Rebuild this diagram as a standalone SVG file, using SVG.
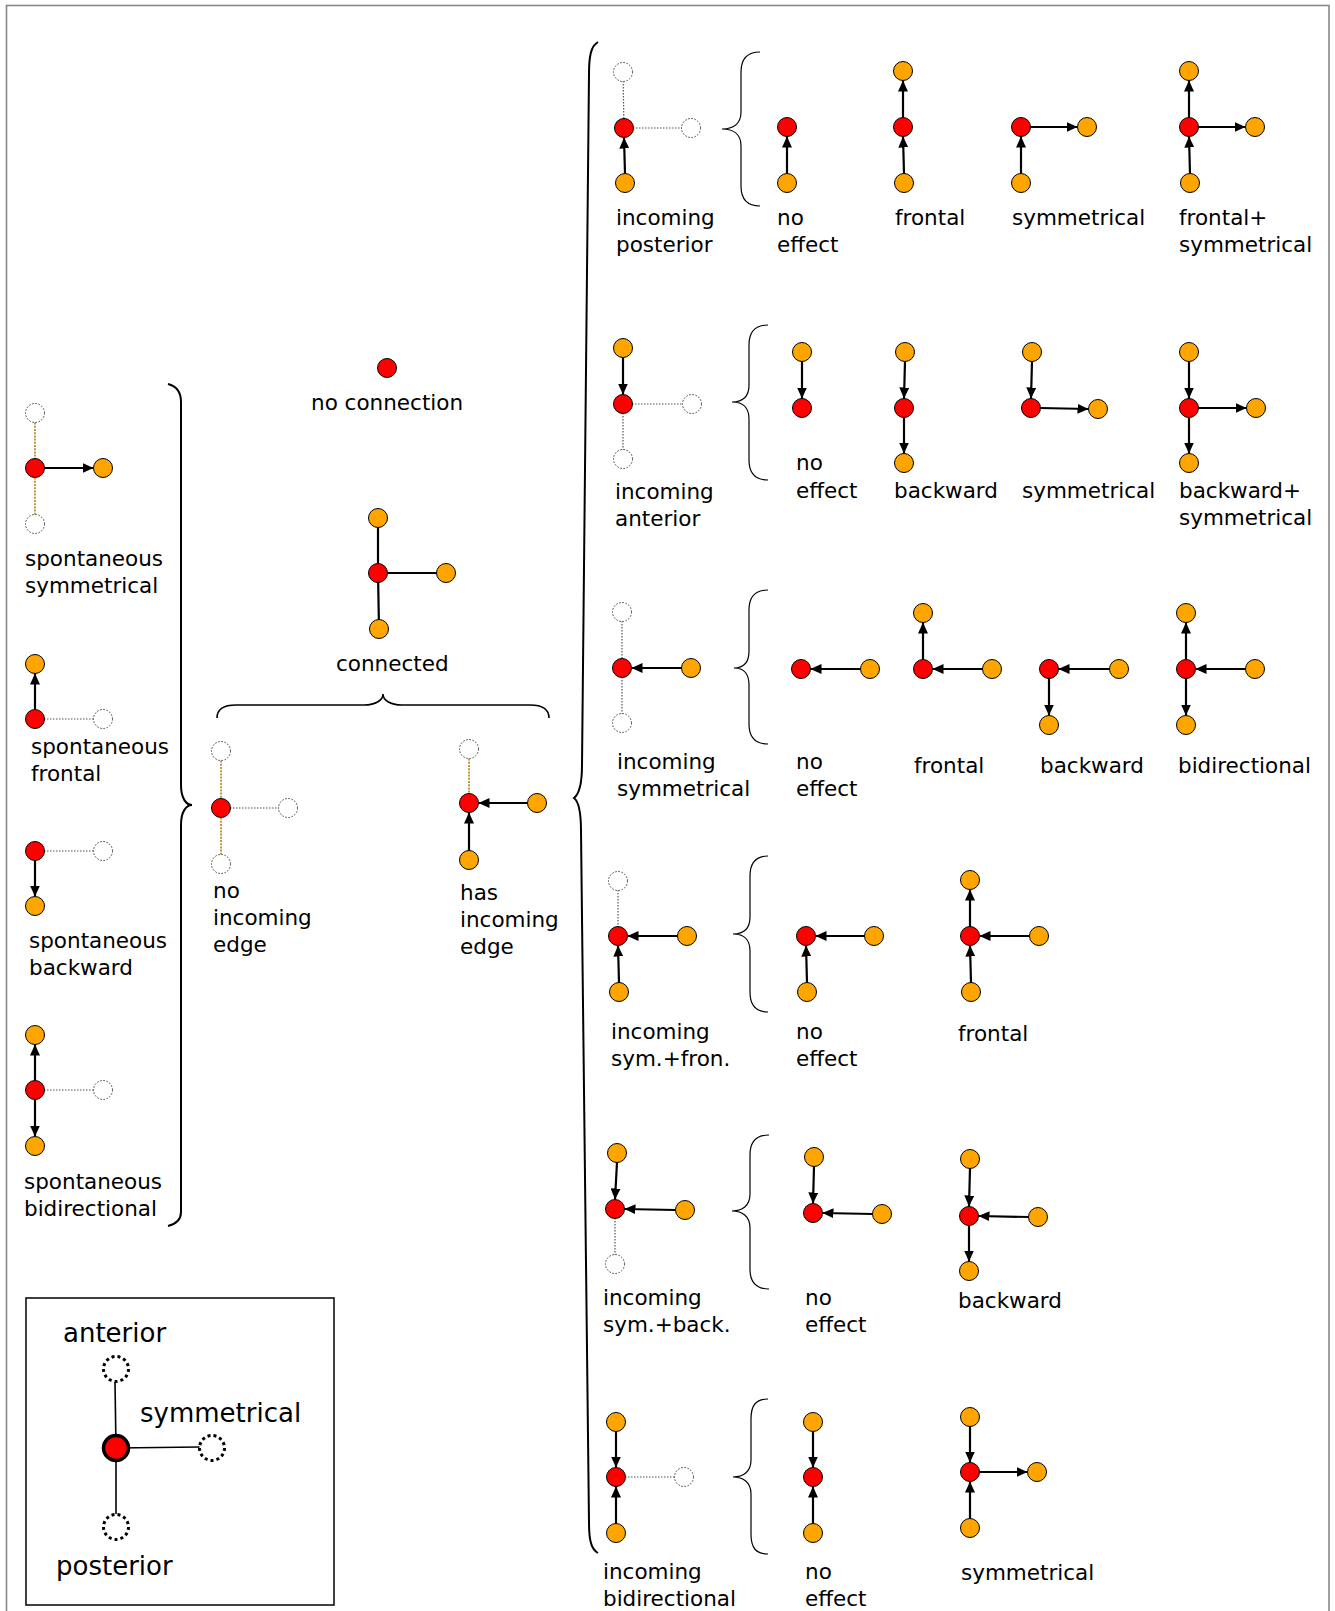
<svg xmlns="http://www.w3.org/2000/svg" width="1335" height="1611" viewBox="0 0 1335 1611">
<defs>
<style>
.r{fill:#ff0000;stroke:#000;stroke-width:1}
.o{fill:#ffa500;stroke:#000;stroke-width:1}
.d{fill:#fff;stroke:#444;stroke-width:1;stroke-dasharray:1.6 1.6}
.t{font-family:"DejaVu Sans","Liberation Sans",sans-serif;font-size:21.5px;fill:#000}
.tl{font-family:"DejaVu Sans","Liberation Sans",sans-serif;font-size:26px;fill:#000}
.a{stroke:#000;stroke-width:2.2;fill:none;marker-end:url(#ah)}
.p{stroke:#000;stroke-width:2.2;fill:none}
.dt{stroke:#555;stroke-width:1.2;stroke-dasharray:1.5 1.5;fill:none}
.dto{stroke:#b07800;stroke-width:1.5;stroke-dasharray:2 1.2;fill:none}
.br{stroke:#000;stroke-width:1.2;fill:none}
.bb{stroke:#000;stroke-width:2;fill:none}
.ld{fill:#fff;stroke:#000;stroke-width:3;stroke-dasharray:3 3}
</style>
<marker id="ah" markerUnits="userSpaceOnUse" markerWidth="11" markerHeight="10" refX="11" refY="5" orient="auto">
<path d="M0,0 L11,5 L0,10 z" fill="#000"/>
</marker>
</defs>
<rect x="6.5" y="5.5" width="1322.5" height="1620" fill="#fff" stroke="#888" stroke-width="1.6"/>

<g id="braces">
<path class="bb" d="M168,384 C176,386 181,391 181,402 L181,785 C181,798 186,805 192,805 C186,805 181,812 181,825 L181,1212 C181,1220 176,1224 168,1226"/>
<path class="br" style="stroke-width:1.6" d="M217,718 C217,709 224,705 236,705 L364,705 C376,705 383,700 383,694 C383,700 390,705 402,705 L530,705 C542,705 549,709 549,718"/>
<path class="bb" d="M598,42 C591,46 589,56 589,74 L582,765 C582,786 578,795 574,798 C578,801 581,810 581,831 L589,1522 C589,1540 591,1549 598,1553"/>
<path class="br" d="M760,52 C748,52 741,58 741,72 L741,112 C741,124 733,129 722,129 C733,129 741,134 741,146 L741,186 C741,200 748,206 760,206"/>
<path class="br" d="M768,325 C756,325 749,331 749,345 L749,385 C749,397 742,402 732,402 C742,402 749,407 749,419 L749,460 C749,474 756,480 768,480"/>
<path class="br" d="M768,590 C756,590 749,596 749,610 L749,651 C749,663 743,668 734,668 C743,668 749,673 749,685 L749,724 C749,738 756,744 768,744"/>
<path class="br" d="M768,856 C756,856 750,862 750,876 L750,917 C750,929 743,934 733,934 C743,934 750,939 750,951 L750,992 C750,1006 756,1012 768,1012"/>
<path class="br" d="M769,1135 C757,1135 750,1141 750,1155 L750,1194 C750,1206 742,1211 732,1211 C742,1211 750,1216 750,1228 L750,1269 C750,1283 757,1289 769,1289"/>
<path class="br" d="M768,1399 C756,1399 751,1405 751,1419 L751,1460 C751,1472 743,1477 733,1477 C743,1477 751,1482 751,1494 L751,1534 C751,1548 756,1554 768,1554"/>
</g>

<g id="connectors">
<line class="dto" x1="35" y1="413" x2="35" y2="468"/>
<line class="dto" x1="35" y1="468" x2="35" y2="524"/>
<line class="dt" x1="35" y1="719" x2="103" y2="719"/>
<line class="dt" x1="35" y1="851" x2="103" y2="851"/>
<line class="dt" x1="35" y1="1090" x2="103" y2="1090"/>
<line class="dto" x1="221" y1="751" x2="221" y2="808"/>
<line class="dto" x1="221" y1="808" x2="221" y2="864"/>
<line class="dt" x1="221" y1="808" x2="288" y2="808"/>
<line class="dto" x1="469" y1="749" x2="469" y2="803"/>
<line class="dt" x1="623" y1="72" x2="624" y2="128"/>
<line class="dt" x1="624" y1="128" x2="691" y2="128"/>
<line class="dt" x1="623" y1="404" x2="692" y2="404"/>
<line class="dt" x1="623" y1="404" x2="623" y2="459"/>
<line class="dt" x1="622" y1="612" x2="622" y2="668"/>
<line class="dt" x1="622" y1="668" x2="622" y2="723"/>
<line class="dt" x1="618" y1="881" x2="618" y2="936"/>
<line class="dt" x1="615" y1="1209" x2="615" y2="1264"/>
<line class="dt" x1="616" y1="1477" x2="684" y2="1477"/>
<line class="p" x1="378" y1="518" x2="378" y2="573"/>
<line class="p" x1="378" y1="573" x2="446" y2="573"/>
<line class="p" x1="378" y1="573" x2="379" y2="629"/>
<line class="a" x1="44.5" y1="468" x2="93.5" y2="468"/>
<line class="a" x1="35" y1="709.5" x2="35" y2="673.5"/>
<line class="a" x1="35" y1="860.5" x2="35" y2="896.5"/>
<line class="a" x1="35" y1="1080.5" x2="35" y2="1044.5"/>
<line class="a" x1="35" y1="1099.5" x2="35" y2="1136.5"/>
<line class="a" x1="527.5" y1="803" x2="478.5" y2="803"/>
<line class="a" x1="469" y1="850.5" x2="469" y2="812.5"/>
<line class="a" x1="625" y1="173.5" x2="624" y2="137.5"/>
<line class="a" x1="787" y1="173.5" x2="787" y2="136.5"/>
<line class="a" x1="904" y1="173.5" x2="903" y2="136.5"/>
<line class="a" x1="903" y1="117.5" x2="903" y2="80.5"/>
<line class="a" x1="1021" y1="173.5" x2="1021" y2="136.5"/>
<line class="a" x1="1030.5" y1="127" x2="1077.5" y2="127"/>
<line class="a" x1="1190" y1="173.5" x2="1189" y2="136.5"/>
<line class="a" x1="1189" y1="117.5" x2="1189" y2="80.5"/>
<line class="a" x1="1198.5" y1="127" x2="1245.5" y2="127"/>
<line class="a" x1="623" y1="357.5" x2="623" y2="394.5"/>
<line class="a" x1="802" y1="361.5" x2="802" y2="398.5"/>
<line class="a" x1="905" y1="361.5" x2="904" y2="398.5"/>
<line class="a" x1="904" y1="417.5" x2="904" y2="453.5"/>
<line class="a" x1="1032" y1="361.5" x2="1031" y2="398.5"/>
<line class="a" x1="1040.5" y1="408" x2="1088.5" y2="409"/>
<line class="a" x1="1189" y1="361.5" x2="1189" y2="398.5"/>
<line class="a" x1="1198.5" y1="408" x2="1246.5" y2="408"/>
<line class="a" x1="1189" y1="417.5" x2="1189" y2="453.5"/>
<line class="a" x1="681.5" y1="668" x2="631.5" y2="668"/>
<line class="a" x1="860.5" y1="669" x2="810.5" y2="669"/>
<line class="a" x1="982.5" y1="669" x2="932.5" y2="669"/>
<line class="a" x1="923" y1="659.5" x2="923" y2="622.5"/>
<line class="a" x1="1109.5" y1="669" x2="1058.5" y2="669"/>
<line class="a" x1="1049" y1="678.5" x2="1049" y2="715.5"/>
<line class="a" x1="1245.5" y1="669" x2="1195.5" y2="669"/>
<line class="a" x1="1186" y1="659.5" x2="1186" y2="622.5"/>
<line class="a" x1="1186" y1="678.5" x2="1186" y2="715.5"/>
<line class="a" x1="677.5" y1="936" x2="627.5" y2="936"/>
<line class="a" x1="619" y1="982.5" x2="618" y2="945.5"/>
<line class="a" x1="864.5" y1="936" x2="815.5" y2="936"/>
<line class="a" x1="807" y1="982.5" x2="806" y2="945.5"/>
<line class="a" x1="1029.5" y1="936" x2="979.5" y2="936"/>
<line class="a" x1="971" y1="982.5" x2="970" y2="945.5"/>
<line class="a" x1="970" y1="926.5" x2="970" y2="889.5"/>
<line class="a" x1="617" y1="1162.5" x2="615" y2="1199.5"/>
<line class="a" x1="675.5" y1="1210" x2="624.5" y2="1209"/>
<line class="a" x1="814" y1="1166.5" x2="813" y2="1203.5"/>
<line class="a" x1="872.5" y1="1214" x2="822.5" y2="1213"/>
<line class="a" x1="970" y1="1168.5" x2="969" y2="1206.5"/>
<line class="a" x1="1028.5" y1="1217" x2="978.5" y2="1216"/>
<line class="a" x1="969" y1="1225.5" x2="969" y2="1261.5"/>
<line class="a" x1="616" y1="1431.5" x2="616" y2="1467.5"/>
<line class="a" x1="616" y1="1523.5" x2="616" y2="1486.5"/>
<line class="a" x1="813" y1="1431.5" x2="813" y2="1467.5"/>
<line class="a" x1="813" y1="1523.5" x2="813" y2="1486.5"/>
<line class="a" x1="970" y1="1426.5" x2="970" y2="1462.5"/>
<line class="a" x1="970" y1="1518.5" x2="970" y2="1481.5"/>
<line class="a" x1="979.5" y1="1472" x2="1027.5" y2="1472"/>
</g>

<g id="spontaneous-symmetrical">
<circle class="d" cx="35" cy="413" r="9.5"/><circle class="r" cx="35" cy="468" r="9.5"/><circle class="o" cx="103" cy="468" r="9.5"/><circle class="d" cx="35" cy="524" r="9.5"/>
<text class="t" x="25" y="565.5">spontaneous</text><text class="t" x="25" y="592.5">symmetrical</text>
</g>
<g id="spontaneous-frontal">
<circle class="o" cx="35" cy="664" r="9.5"/><circle class="r" cx="35" cy="719" r="9.5"/><circle class="d" cx="103" cy="719" r="9.5"/>
<text class="t" x="31" y="754">spontaneous</text><text class="t" x="31" y="781">frontal</text>
</g>
<g id="spontaneous-backward">
<circle class="r" cx="35" cy="851" r="9.5"/><circle class="d" cx="103" cy="851" r="9.5"/><circle class="o" cx="35" cy="906" r="9.5"/>
<text class="t" x="29" y="948">spontaneous</text><text class="t" x="29" y="975">backward</text>
</g>
<g id="spontaneous-bidirectional">
<circle class="o" cx="35" cy="1035" r="9.5"/><circle class="r" cx="35" cy="1090" r="9.5"/><circle class="d" cx="103" cy="1090" r="9.5"/><circle class="o" cx="35" cy="1146" r="9.5"/>
<text class="t" x="24" y="1189">spontaneous</text><text class="t" x="24" y="1216">bidirectional</text>
</g>
<g id="no-connection">
<circle class="r" cx="387" cy="368" r="9.5"/>
<text class="t" x="311" y="409.5">no connection</text>
</g>
<g id="connected">
<circle class="o" cx="378" cy="518" r="9.5"/><circle class="r" cx="378" cy="573" r="9.5"/><circle class="o" cx="446" cy="573" r="9.5"/><circle class="o" cx="379" cy="629" r="9.5"/>
<text class="t" x="336" y="671">connected</text>
</g>
<g id="no-incoming-edge">
<circle class="d" cx="221" cy="751" r="9.5"/><circle class="r" cx="221" cy="808" r="9.5"/><circle class="d" cx="288" cy="808" r="9.5"/><circle class="d" cx="221" cy="864" r="9.5"/>
<text class="t" x="213" y="898">no</text><text class="t" x="213" y="925">incoming</text><text class="t" x="213" y="952">edge</text>
</g>
<g id="has-incoming-edge">
<circle class="d" cx="469" cy="749" r="9.5"/><circle class="r" cx="469" cy="803" r="9.5"/><circle class="o" cx="537" cy="803" r="9.5"/><circle class="o" cx="469" cy="860" r="9.5"/>
<text class="t" x="460" y="900">has</text><text class="t" x="460" y="927">incoming</text><text class="t" x="460" y="954">edge</text>
</g>

<g id="incoming-posterior">
<circle class="d" cx="623" cy="72" r="9.5"/><circle class="r" cx="624" cy="128" r="9.5"/><circle class="d" cx="691" cy="128" r="9.5"/><circle class="o" cx="625" cy="183" r="9.5"/>
<text class="t" x="616" y="225">incoming</text><text class="t" x="616" y="252">posterior</text>
</g>
<g id="p-no-effect">
<circle class="r" cx="787" cy="127" r="9.5"/><circle class="o" cx="787" cy="183" r="9.5"/>
<text class="t" x="777" y="225">no</text><text class="t" x="777" y="252">effect</text>
</g>
<g id="p-frontal">
<circle class="o" cx="903" cy="71" r="9.5"/><circle class="r" cx="903" cy="127" r="9.5"/><circle class="o" cx="904" cy="183" r="9.5"/>
<text class="t" x="895" y="225">frontal</text>
</g>
<g id="p-symmetrical">
<circle class="r" cx="1021" cy="127" r="9.5"/><circle class="o" cx="1087" cy="127" r="9.5"/><circle class="o" cx="1021" cy="183" r="9.5"/>
<text class="t" x="1012" y="225">symmetrical</text>
</g>
<g id="p-frontal-symmetrical">
<circle class="o" cx="1189" cy="71" r="9.5"/><circle class="r" cx="1189" cy="127" r="9.5"/><circle class="o" cx="1255" cy="127" r="9.5"/><circle class="o" cx="1190" cy="183" r="9.5"/>
<text class="t" x="1179" y="225">frontal+</text><text class="t" x="1179" y="252">symmetrical</text>
</g>

<g id="incoming-anterior">
<circle class="o" cx="623" cy="348" r="9.5"/><circle class="r" cx="623" cy="404" r="9.5"/><circle class="d" cx="692" cy="404" r="9.5"/><circle class="d" cx="623" cy="459" r="9.5"/>
<text class="t" x="615" y="498.5">incoming</text><text class="t" x="615" y="526">anterior</text>
</g>
<g id="a-no-effect">
<circle class="o" cx="802" cy="352" r="9.5"/><circle class="r" cx="802" cy="408" r="9.5"/>
<text class="t" x="796" y="470">no</text><text class="t" x="796" y="497.5">effect</text>
</g>
<g id="a-backward">
<circle class="o" cx="905" cy="352" r="9.5"/><circle class="r" cx="904" cy="408" r="9.5"/><circle class="o" cx="904" cy="463" r="9.5"/>
<text class="t" x="894" y="497.5">backward</text>
</g>
<g id="a-symmetrical">
<circle class="o" cx="1032" cy="352" r="9.5"/><circle class="r" cx="1031" cy="408" r="9.5"/><circle class="o" cx="1098" cy="409" r="9.5"/>
<text class="t" x="1022" y="497.5">symmetrical</text>
</g>
<g id="a-backward-symmetrical">
<circle class="o" cx="1189" cy="352" r="9.5"/><circle class="r" cx="1189" cy="408" r="9.5"/><circle class="o" cx="1256" cy="408" r="9.5"/><circle class="o" cx="1189" cy="463" r="9.5"/>
<text class="t" x="1179" y="497.5">backward+</text><text class="t" x="1179" y="524.5">symmetrical</text>
</g>

<g id="incoming-symmetrical">
<circle class="d" cx="622" cy="612" r="9.5"/><circle class="r" cx="622" cy="668" r="9.5"/><circle class="o" cx="691" cy="668" r="9.5"/><circle class="d" cx="622" cy="723" r="9.5"/>
<text class="t" x="617" y="769">incoming</text><text class="t" x="617" y="796">symmetrical</text>
</g>
<g id="s-no-effect">
<circle class="r" cx="801" cy="669" r="9.5"/><circle class="o" cx="870" cy="669" r="9.5"/>
<text class="t" x="796" y="769">no</text><text class="t" x="796" y="796">effect</text>
</g>
<g id="s-frontal">
<circle class="o" cx="923" cy="613" r="9.5"/><circle class="r" cx="923" cy="669" r="9.5"/><circle class="o" cx="992" cy="669" r="9.5"/>
<text class="t" x="914" y="773">frontal</text>
</g>
<g id="s-backward">
<circle class="r" cx="1049" cy="669" r="9.5"/><circle class="o" cx="1119" cy="669" r="9.5"/><circle class="o" cx="1049" cy="725" r="9.5"/>
<text class="t" x="1040" y="773">backward</text>
</g>
<g id="s-bidirectional">
<circle class="o" cx="1186" cy="613" r="9.5"/><circle class="r" cx="1186" cy="669" r="9.5"/><circle class="o" cx="1255" cy="669" r="9.5"/><circle class="o" cx="1186" cy="725" r="9.5"/>
<text class="t" x="1178" y="773">bidirectional</text>
</g>

<g id="incoming-sym-fron">
<circle class="d" cx="618" cy="881" r="9.5"/><circle class="r" cx="618" cy="936" r="9.5"/><circle class="o" cx="687" cy="936" r="9.5"/><circle class="o" cx="619" cy="992" r="9.5"/>
<text class="t" x="611" y="1039">incoming</text><text class="t" x="611" y="1066">sym.+fron.</text>
</g>
<g id="sf-no-effect">
<circle class="r" cx="806" cy="936" r="9.5"/><circle class="o" cx="874" cy="936" r="9.5"/><circle class="o" cx="807" cy="992" r="9.5"/>
<text class="t" x="796" y="1038.5">no</text><text class="t" x="796" y="1065.5">effect</text>
</g>
<g id="sf-frontal">
<circle class="o" cx="970" cy="880" r="9.5"/><circle class="r" cx="970" cy="936" r="9.5"/><circle class="o" cx="1039" cy="936" r="9.5"/><circle class="o" cx="971" cy="992" r="9.5"/>
<text class="t" x="958" y="1041">frontal</text>
</g>

<g id="incoming-sym-back">
<circle class="o" cx="617" cy="1153" r="9.5"/><circle class="r" cx="615" cy="1209" r="9.5"/><circle class="o" cx="685" cy="1210" r="9.5"/><circle class="d" cx="615" cy="1264" r="9.5"/>
<text class="t" x="603" y="1305">incoming</text><text class="t" x="603" y="1332">sym.+back.</text>
</g>
<g id="sb-no-effect">
<circle class="o" cx="814" cy="1157" r="9.5"/><circle class="r" cx="813" cy="1213" r="9.5"/><circle class="o" cx="882" cy="1214" r="9.5"/>
<text class="t" x="805" y="1305">no</text><text class="t" x="805" y="1332">effect</text>
</g>
<g id="sb-backward">
<circle class="o" cx="970" cy="1159" r="9.5"/><circle class="r" cx="969" cy="1216" r="9.5"/><circle class="o" cx="1038" cy="1217" r="9.5"/><circle class="o" cx="969" cy="1271" r="9.5"/>
<text class="t" x="958" y="1308">backward</text>
</g>

<g id="incoming-bidirectional">
<circle class="o" cx="616" cy="1422" r="9.5"/><circle class="r" cx="616" cy="1477" r="9.5"/><circle class="d" cx="684" cy="1477" r="9.5"/><circle class="o" cx="616" cy="1533" r="9.5"/>
<text class="t" x="603" y="1579">incoming</text><text class="t" x="603" y="1606">bidirectional</text>
</g>
<g id="b-no-effect">
<circle class="o" cx="813" cy="1422" r="9.5"/><circle class="r" cx="813" cy="1477" r="9.5"/><circle class="o" cx="813" cy="1533" r="9.5"/>
<text class="t" x="805" y="1579">no</text><text class="t" x="805" y="1606">effect</text>
</g>
<g id="b-symmetrical">
<circle class="o" cx="970" cy="1417" r="9.5"/><circle class="r" cx="970" cy="1472" r="9.5"/><circle class="o" cx="1037" cy="1472" r="9.5"/><circle class="o" cx="970" cy="1528" r="9.5"/>
<text class="t" x="961" y="1580">symmetrical</text>
</g>

<g id="legend">
<rect x="26" y="1298" width="308" height="307" fill="none" stroke="#111" stroke-width="1.6"/>
<line x1="115" y1="1382" x2="116" y2="1448" stroke="#000" stroke-width="1.6"/>
<line x1="116" y1="1448" x2="200" y2="1447" stroke="#000" stroke-width="1.6"/>
<line x1="116" y1="1448" x2="116" y2="1514" stroke="#000" stroke-width="1.6"/>
<circle class="ld" cx="116" cy="1369" r="12.5"/>
<circle class="ld" cx="212" cy="1448" r="12.5"/>
<circle class="ld" cx="116" cy="1527" r="12.5"/>
<circle cx="116" cy="1448" r="12.5" fill="#ff0000" stroke="#000" stroke-width="3.5"/>
<text class="tl" x="63" y="1342">anterior</text>
<text class="tl" x="140" y="1422">symmetrical</text>
<text class="tl" x="56" y="1575">posterior</text>
</g>
</svg>
